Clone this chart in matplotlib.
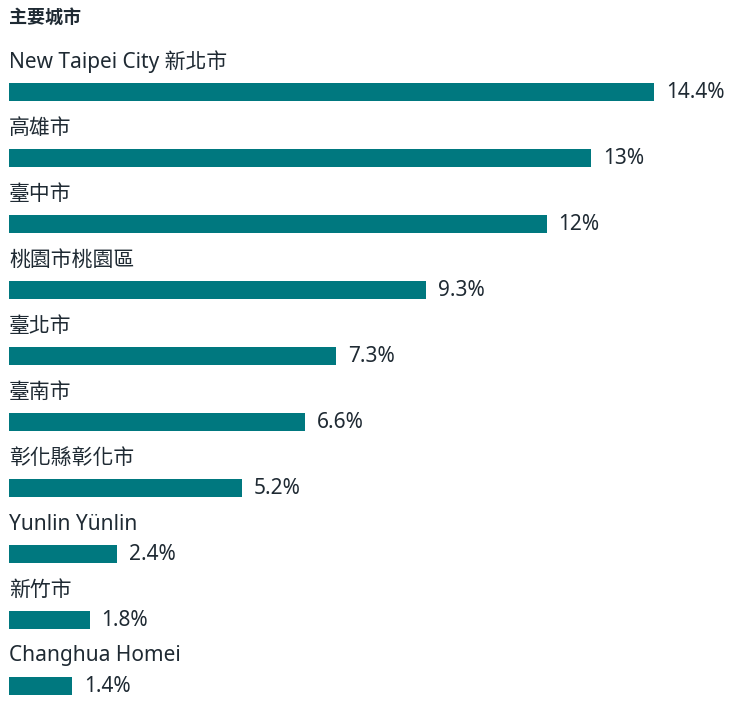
import matplotlib.pyplot as plt

plt.rcParams['font.family'] = ['Noto Sans', 'Noto Sans CJK TC', 'DejaVu Sans']

title = '主要城市'
cities = ['New Taipei City 新北市', '高雄市', '臺中市', '桃園市桃園區', '臺北市',
          '臺南市', '彰化縣彰化市', 'Yunlin Yünlin', '新竹市', 'Changhua Homei']
shares = [14.4, 13, 12, 9.3, 7.3, 6.6, 5.2, 2.4, 1.8, 1.4]
share_labels = ['14.4%', '13%', '12%', '9.3%', '7.3%', '6.6%', '5.2%', '2.4%', '1.8%', '1.4%']

bar_color = '#00787f'
text_color = '#1f2a33'

W, H = 734, 710
left = 9
px_per_pct = 44.8

fig = plt.figure(figsize=(W / 100, H / 100), dpi=100)
ax = fig.add_axes([left / W, 0, 1 - left / W, 1])
ax.set_xlim(0, (W - left) / px_per_pct)
ax.set_ylim(H, 0)  # y in pixels from top
ax.axis('off')

ys = [92 + 66 * i for i in range(len(cities))]
ax.barh(ys, shares, height=18, color=bar_color)

pct_per_px = 1 / px_per_pct
for y, v, lab, name in zip(ys, shares, share_labels, cities):
    ax.text(v + 12 * pct_per_px, y + 1, lab, fontsize=15, color=text_color,
            va='center', ha='left')
    ax.text(0, y - 30, name, fontsize=15, color=text_color, va='center', ha='left')

ax.text(0, 18, title, fontsize=13, fontweight='bold', color=text_color,
        va='center', ha='left')

fig.savefig('out.png', dpi=100)
